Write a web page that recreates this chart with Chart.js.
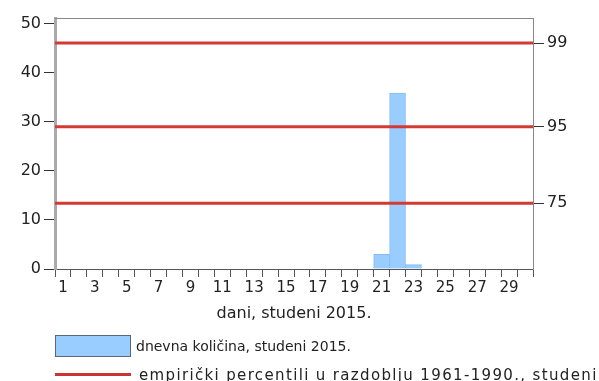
<!DOCTYPE html>
<html>
<head>
<meta charset="utf-8">
<script src="https://cdn.jsdelivr.net/npm/chart.js@4"></script>
<style>
  html, body { margin: 0; padding: 0; background: #fff; overflow: hidden; }
  #wrap { position: relative; width: 599px; height: 381px; font-family: "DejaVu Sans", sans-serif; color: #222; }
  #chart { position: absolute; left: 0; top: 0; }
  .leg-box { position: absolute; left: 55px; top: 335px; width: 74px; height: 20px; background: #99ccff; border: 1.5px solid #5b6677; }
  .leg-line { position: absolute; left: 55px; top: 373px; width: 76px; height: 3px; background: #cc3333; }
  .leg-text { position: absolute; left: 136px; font-size: 14px; white-space: nowrap; line-height: 16px; }
  .leg-text.wide { left: 139px; font-size: 15px; letter-spacing: 1.35px; }
</style>
</head>
<body>
<div id="wrap">
  <canvas id="chart" width="599" height="381"></canvas>
  <div class="leg-box"></div>
  <div class="leg-text" style="top: 338px;">dnevna količina, studeni 2015.</div>
  <div class="leg-line"></div>
  <div class="leg-text wide" style="top: 367px;">empirički percentili u razdoblju 1961-1990., studeni</div>
</div>
<script>
// dnevna količina oborine po danima, studeni 2015.
const days = Array.from({ length: 30 }, (_, i) => String(i + 1));
const dailyAmount = [
  0, 0, 0, 0, 0, 0, 0, 0, 0, 0,
  0, 0, 0, 0, 0, 0, 0, 0, 0, 0,
  3.0, 35.9, 0.9, 0, 0, 0, 0, 0, 0, 0
];
const leftTicks = [0, 10, 20, 30, 40, 50];
const percentileNames = ['99', '95', '75'];
const percentileValues = [46.1, 29.0, 13.4];
const yMax = 51.2;

const FONT = 'DejaVu Sans';

// horizontal percentile lines + top frame line
const percentileLines = {
  id: 'percentileLines',
  afterDatasetsDraw(chart) {
    const { ctx, chartArea, scales } = chart;
    ctx.save();
    ctx.strokeStyle = '#888';
    ctx.lineWidth = 1;
    ctx.beginPath();
    ctx.moveTo(chartArea.left, chartArea.top + 0.5);
    ctx.lineTo(chartArea.right, chartArea.top + 0.5);
    ctx.stroke();

    ctx.strokeStyle = '#d43a34';
    ctx.lineWidth = 3;
    percentileValues.forEach(v => {
      const y = scales.y.getPixelForValue(v);
      ctx.beginPath();
      ctx.moveTo(chartArea.left, y);
      ctx.lineTo(chartArea.right, y);
      ctx.stroke();
    });
    ctx.restore();
  }
};

new Chart(document.getElementById('chart'), {
  type: 'bar',
  data: {
    labels: days,
    datasets: [{
      label: 'dnevna količina, studeni 2015.',
      data: dailyAmount,
      backgroundColor: '#99ccff',
      borderColor: '#85bdf2',
      borderWidth: 1,
      barPercentage: 1,
      categoryPercentage: 1
    }]
  },
  options: {
    responsive: false,
    animation: false,
    layout: { padding: { top: 18, bottom: 54, left: 0, right: 0 } },
    plugins: { legend: { display: false }, tooltip: { enabled: false } },
    scales: {
      x: {
        offset: true,
        grid: { offset: true, drawOnChartArea: false, drawTicks: true, tickLength: 8, color: '#555' },
        border: { color: '#555', width: 1 },
        ticks: {
          autoSkip: false,
          maxRotation: 0,
          padding: 2,
          color: '#222',
          font: { family: FONT, size: 15 },
          callback: (v, i) => (i % 2 === 0 ? days[i] : '')
        },
        title: {
          display: true,
          text: 'dani, studeni 2015.',
          color: '#222',
          font: { family: FONT, size: 16 },
          padding: { top: 0, bottom: 4 }
        },
        afterFit: s => { s.height = 58; }
      },
      y: {
        position: 'left',
        min: 0,
        max: yMax,
        afterBuildTicks: s => { s.ticks = leftTicks.map(v => ({ value: v })); },
        grid: { drawOnChartArea: false, tickLength: 11, color: '#333' },
        border: { color: '#aaa', width: 3 },
        ticks: { padding: 3, color: '#222', font: { family: FONT, size: 16 } },
        afterFit: s => { s.width = 55; }
      },
      y2: {
        position: 'right',
        min: 0,
        max: yMax,
        afterBuildTicks: s => { s.ticks = percentileValues.map(v => ({ value: v })); },
        grid: { drawOnChartArea: false, tickLength: 11, color: '#333' },
        border: { color: '#888', width: 1 },
        ticks: {
          padding: 3,
          color: '#222',
          font: { family: FONT, size: 16 },
          callback: (v, i) => percentileNames[i]
        },
        afterFit: s => { s.width = 66; }
      }
    }
  },
  plugins: [percentileLines]
});
</script>
</body>
</html>
